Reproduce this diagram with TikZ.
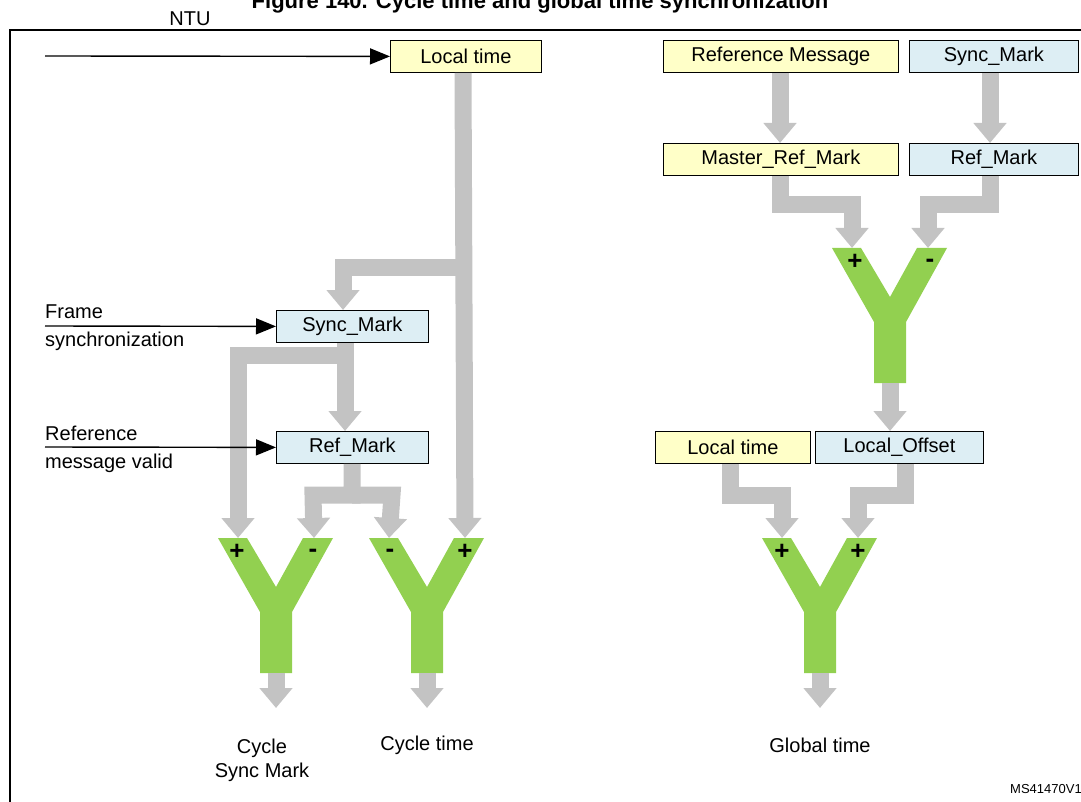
\documentclass[tikz,border=0pt]{standalone}
\usepackage{fontspec}
\setmainfont{Liberation Sans}
\usetikzlibrary{arrows.meta}
\definecolor{yel}{HTML}{FFFFC8}
\definecolor{blu}{HTML}{DDEEF4}
\definecolor{gry}{HTML}{C3C3C3}
\definecolor{grn}{HTML}{92D050}
\begin{document}
\begin{tikzpicture}[x=1pt,y=-1pt,
  box/.style={draw=black,line width=0.8pt,minimum height=32pt,inner sep=0pt,font=\fontsize{20}{22}\selectfont,anchor=north west},
  flow/.style={draw=gry,line width=17pt,line join=miter,-{Triangle[length=20pt 0 0,width=32pt 0 0]}},
  inarrow/.style={line width=1.4pt,-{Triangle[length=20pt 0 0,width=16pt 0 0]}},
  lbl/.style={font=\fontsize{20}{24}\selectfont,align=left,inner sep=0pt},
  lbl2/.style={font=\fontsize{20}{28}\selectfont,align=left,inner sep=0pt},
  sgn/.style={font=\fontsize{26}{26}\selectfont\bfseries,inner sep=0pt}]
\useasboundingbox (0,0) rectangle (1081,802);
\node[font=\fontsize{22}{24}\selectfont\bfseries] (title) at (540,3) {Figure 140. Cycle time and global time synchronization};
\draw[line width=1.2pt] (1090,30) -- (10,30) -- (10,810);
\newcommand{\ygate}[3]{\fill[grn] (#1-58,#2) -- (#1-29,#2) -- (#1,#2+49) -- (#1+27,#2) -- (#1+57,#2) -- (#1+16,#2+74) -- (#1+16,#2+135) -- (#1-16,#2+135) -- (#1-16,#2+74) -- cycle;
  \coordinate (#3L) at (#1-38,#2); \coordinate (#3R) at (#1+38,#2); \coordinate (#3B) at (#1,#2+135);}
% boxes
\node[box,fill=yel,minimum width=151pt] (lt) at (390,40) {Local time};
\node[box,fill=yel,minimum width=235pt] (rm) at (663,40) {Reference Message};
\node[box,fill=blu,minimum width=169pt] (smr) at (909,40) {Sync\_Mark};
\node[box,fill=yel,minimum width=235pt] (mrm) at (663,143) {Master\_Ref\_Mark};
\node[box,fill=blu,minimum width=169pt] (rmr) at (909,143) {Ref\_Mark};
\node[box,fill=blu,minimum width=152pt] (sml) at (276,310) {Sync\_Mark};
\node[box,fill=blu,minimum width=152pt] (rml) at (276,431) {Ref\_Mark};
\node[box,fill=yel,minimum width=155pt] (lt2) at (655,431) {Local time};
\node[box,fill=blu,minimum width=168pt] (lo) at (815,431) {Local\_Offset};
% gates
\ygate{276}{538}{ya}
\ygate{427}{538}{yb}
\ygate{890}{248}{yc}
\ygate{820}{538}{yd}
% left flows
\draw[flow] (lt.south -| 463,0) -- (ybR);
\draw[flow] (463,268) -- (343,268) -- (sml.north -| 343,0);
\draw[flow] (sml.south -| 345,0) -- (345,355) -- (238,355) -- (yaL);
\draw[flow] (345,350) -- (rml.north -| 345,0);
\draw[flow] (rml.south -| 352,0) -- (352,495) -- (313,495) -- (yaR);
\draw[flow] (352,495) -- (392,495) -- (ybL);
\draw[flow] (yaB) -- ++(0,35);
\draw[flow] (ybB) -- ++(0,35);
% right flows
\draw[flow] (rm.south -| 780,0) -- (mrm.north -| 780,0);
\draw[flow] (smr.south -| 990,0) -- (rmr.north -| 990,0);
\draw[flow] (mrm.south -| 780,0) -- (780,205) -- (ycL |- 0,205) -- (ycL);
\draw[flow] (rmr.south -| 990,0) -- (990,205) -- (ycR |- 0,205) -- (ycR);
\draw[flow] (ycB) -- (lo.north -| ycB);
\draw[flow] (lt2.south -| 730,0) -- (730,495) -- (ydL |- 0,495) -- (ydL);
\draw[flow] (lo.south -| 905,0) -- (905,495) -- (ydR |- 0,495) -- (ydR);
\draw[flow] (ydB) -- ++(0,35);
% signs
\node[sgn] at (237,552) {+}; \node[sgn] at (313,553) {-};
\node[sgn] at (390,553) {-}; \node[sgn] at (465,552) {+};
\node[sgn] at (855,262) {+}; \node[sgn] at (930,263) {-};
\node[sgn] at (782,552) {+}; \node[sgn] at (858,552) {+};
% inputs
\coordinate (ntu0) at (45,56);
\draw[inarrow] (ntu0) -- (lt.west);
\node[lbl] (ntu) at (190,19) {NTU};
\node[lbl2,anchor=north west] (fs) at (45,305) {Frame\\synchronization};
\coordinate (fs0) at (45,326);
\draw[inarrow] (fs0) -- (sml.west);
\node[lbl2,anchor=north west] (rv) at (45,426) {Reference\\message valid};
\coordinate (rv0) at (45,447);
\draw[inarrow] (rv0) -- (rml.west);
% outputs
\node[lbl,align=center] (o1) at (262,760) {Cycle\\Sync Mark};
\node[lbl] (o2) at (427,745) {Cycle time};
\node[lbl] (o3) at (820,745) {Global time};
\node[font=\fontsize{13}{14}\selectfont,inner sep=0pt,anchor=west] (ms) at (1010,789) {MS41470V1};
\end{tikzpicture}
\end{document}
